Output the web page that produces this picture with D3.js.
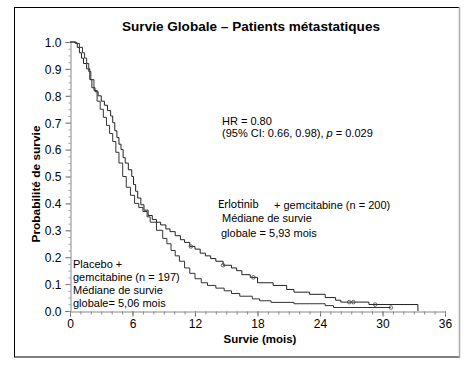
<!DOCTYPE html>
<html>
<head>
<meta charset="utf-8">
<script src="https://cdn.jsdelivr.net/npm/d3@7"></script>
<style>
  body { margin: 0; background: #fff; }
  text { font-family: "Liberation Sans", Arial, sans-serif; fill: #000; }
</style>
</head>
<body>
<div id="viz"></div>
<script>
"use strict";

const w = 473;
const h = 371;

// Kaplan-Meier steps (months, survival)
const erlotT = [0, 0.5, 0.7, 0.9, 1.1, 1.3, 1.6, 1.9, 2.1, 2.4, 2.7, 3.0, 3.3, 3.6, 3.9, 4.1, 4.3, 4.5, 4.7, 4.9, 5.1, 5.3, 5.6, 5.93, 6.1, 6.3, 6.5, 6.8, 7.1, 7.5, 7.9, 8.3, 8.7, 9.2, 9.6, 10.1, 10.6, 11.0, 11.5, 12.0, 12.5, 13.0, 13.5, 14.0, 14.7, 15.5, 16.0, 16.5, 17.3, 18.0, 19.5, 20.8, 21.5, 23.0, 24.5, 25.5, 26.0, 28.7, 33.4];
const erlotS = [1, 0.995, 0.98, 0.96, 0.94, 0.92, 0.90, 0.86, 0.83, 0.815, 0.80, 0.78, 0.765, 0.745, 0.725, 0.70, 0.67, 0.645, 0.62, 0.60, 0.57, 0.55, 0.525, 0.50, 0.47, 0.445, 0.42, 0.395, 0.375, 0.355, 0.34, 0.33, 0.32, 0.305, 0.295, 0.28, 0.265, 0.255, 0.24, 0.23, 0.215, 0.205, 0.195, 0.185, 0.17, 0.16, 0.15, 0.135, 0.125, 0.105, 0.095, 0.08, 0.07, 0.062, 0.05, 0.04, 0.033, 0.024, 0];
const erlotCensor = [11.6, 14.7, 17.6, 26.8, 27.2, 29.3];

const placT = [0, 0.6, 0.9, 1.2, 1.4, 1.6, 1.8, 2.0, 2.3, 2.6, 2.9, 3.2, 3.5, 3.8, 4.1, 4.4, 4.7, 5.06, 5.4, 5.8, 6.2, 6.6, 7.0, 7.4, 7.7, 8.3, 8.9, 9.3, 9.7, 10.1, 10.5, 11.0, 11.5, 12.0, 12.6, 13.2, 14.0, 14.8, 15.5, 16.3, 17.5, 18.2, 19.3, 21.5, 24.5, 25.3, 30.8];
const placS = [1, 0.995, 0.98, 0.96, 0.94, 0.92, 0.89, 0.86, 0.82, 0.78, 0.75, 0.72, 0.69, 0.66, 0.63, 0.59, 0.55, 0.50, 0.46, 0.43, 0.40, 0.385, 0.37, 0.35, 0.33, 0.30, 0.27, 0.25, 0.225, 0.205, 0.185, 0.16, 0.14, 0.12, 0.105, 0.095, 0.085, 0.075, 0.065, 0.055, 0.045, 0.038, 0.032, 0.027, 0.02, 0.013, 0.013];
const placCensor = [30.8];

const xTicks = [0, 6, 12, 18, 24, 30, 36];
const yTicks = [0, 0.1, 0.2, 0.3, 0.4, 0.5, 0.6, 0.7, 0.8, 0.9, 1.0];

const svg = d3.select("#viz")
  .append("svg")
  .attr("width", w)
  .attr("height", h)

// frame
svg.append("rect")
  .attr("x", 14.5).attr("y", 7.5)
  .attr("width", 445).attr("height", 349.5)
  .attr("fill", "none")
  .attr("stroke", "#000")
svg.append("line")
  .attr("x1", 459.5).attr("x2", 459.5)
  .attr("y1", 7).attr("y2", 357.5)
  .attr("stroke", "#aaa").attr("stroke-width", 1.5)

const x = d3.scaleLinear().domain([0, 36]).range([70, 445]);
const y = d3.scaleLinear().domain([0, 1]).range([311, 42]);

// y axis
const yAxis = svg.append("g")
  .attr("transform", "translate(70.5,0)")
  .call(d3.axisLeft(y).tickValues(yTicks).tickFormat(d3.format(".1f")).tickSize(5).tickPadding(4))
yAxis.select(".domain").attr("stroke", "#888")
yAxis.selectAll(".tick line").attr("stroke", "#666")
yAxis.selectAll("text").style("font-size", "12px").attr("dy", "0.36em")

svg.append("g")
  .attr("transform", "translate(70.5,0)")
  .call(d3.axisLeft(y).tickValues(d3.range(0, 1.001, 0.025)).tickFormat("").tickSize(2))
  .call(g => g.select(".domain").remove())
  .selectAll("line").attr("stroke", "#999")

// x axis
const xAxis = svg.append("g")
  .attr("transform", "translate(0,311.5)")
  .call(d3.axisBottom(x).tickValues(xTicks).tickSize(5).tickPadding(3))
xAxis.select(".domain").attr("stroke", "#888")
xAxis.selectAll(".tick line").attr("stroke", "#666")
xAxis.selectAll("text").style("font-size", "12px")

svg.append("g")
  .attr("transform", "translate(0,311.5)")
  .call(d3.axisBottom(x).tickValues(d3.range(0, 37, 1)).tickFormat("").tickSize(3))
  .call(g => g.select(".domain").remove())
  .selectAll("line").attr("stroke", "#888")

// curves
const line = d3.line()
  .x(d => x(d[0]))
  .y(d => y(d[1]))
  .curve(d3.curveStepAfter)

function survAt(T, S, t) {
  const i = d3.bisectRight(T, t) - 1;
  return S[Math.max(0, i)];
}

const groups = [
  { T: erlotT, S: erlotS, C: erlotCensor, color: "#222" },
  { T: placT, S: placS, C: placCensor, color: "#333" }
];

groups.forEach(g => {
  svg.append("path")
    .datum(g.T.map((t, i) => [t, g.S[i]]))
    .attr("d", line)
    .attr("fill", "none")
    .attr("stroke", g.color)
    .attr("stroke-width", 1)

  svg.selectAll(null)
    .data(g.C)
    .enter()
    .append("circle")
    .attr("cx", d => x(d))
    .attr("cy", d => y(survAt(g.T, g.S, d)))
    .attr("r", 1.8)
    .attr("fill", "none")
    .attr("stroke", "#444")
    .attr("stroke-width", 0.8)
})

// titles
svg.append("text")
  .attr("x", 251).attr("y", 31)
  .attr("text-anchor", "middle")
  .attr("textLength", 258)
  .attr("lengthAdjust", "spacingAndGlyphs")
  .style("font-size", "13px").style("font-weight", "bold")
  .text("Survie Globale – Patients métastatiques")

svg.append("text")
  .attr("x", 260).attr("y", 343)
  .attr("text-anchor", "middle")
  .style("font-size", "11.5px").style("font-weight", "bold")
  .text("Survie (mois)")

svg.append("text")
  .attr("transform", "translate(40,184) rotate(-90)")
  .attr("text-anchor", "middle")
  .attr("textLength", 117)
  .attr("lengthAdjust", "spacingAndGlyphs")
  .style("font-size", "11.5px").style("font-weight", "bold")
  .text("Probabilité de survie")

// annotations
const note = (tx, ty, s) => svg.append("text")
  .attr("x", tx).attr("y", ty)
  .style("font-size", "11px")
  .text(s)

note(222, 125, "HR = 0.80")
const ci = note(222, 137, "(95% CI: 0.66, 0.98), ")
ci.append("tspan").style("font-style", "italic").text("p")
ci.append("tspan").text(" = 0.029")

svg.append("text")
  .attr("x", 218).attr("y", 208)
  .style("font-family", "Lato, sans-serif")
  .style("font-size", "11px")
  .text("Erlotinib")
note(274, 209, "+ gemcitabine (n = 200)")
note(222, 222, "Médiane de survie")
note(221, 237, "globale = 5,93 mois")

note(73, 268, "Placebo +")
note(73, 281, "gemcitabine (n = 197)")
note(73, 294, "Médiane de survie")
note(73, 307, "globale= 5,06 mois")
</script>
</body>
</html>
